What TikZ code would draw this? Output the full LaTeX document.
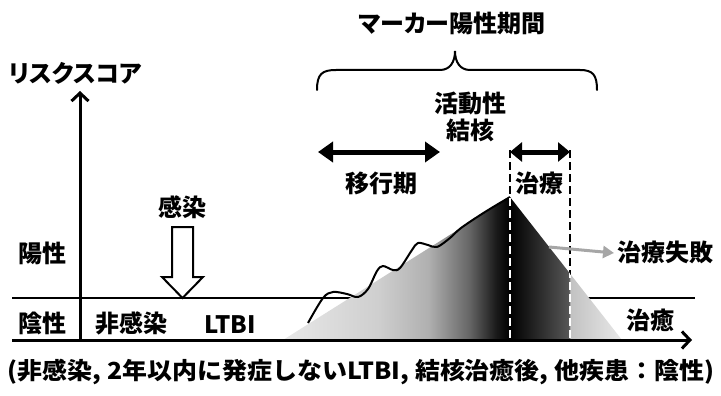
\documentclass[tikz,border=0pt]{standalone}
\usepackage{fontspec}
\setmainfont{Noto Sans CJK JP}[RawFeature=+palt]
\newfontfamily\capfont{Noto Sans CJK JP}
\usetikzlibrary{arrows.meta}
\definecolor{gA}{gray}{0.91}
\definecolor{gB}{gray}{0.81}
\definecolor{gC}{gray}{0.69}
\definecolor{gD}{gray}{0.40}
\definecolor{gE}{gray}{0.10}
\definecolor{gF}{gray}{0.34}
\definecolor{gG}{gray}{0.76}
\definecolor{failgray}{gray}{0.65}
\pgfdeclarehorizontalshading{leftgrad}{100bp}{color(0bp)=(gA); color(25bp)=(gA); color(46bp)=(gB); color(57bp)=(gC); color(66bp)=(gD); color(72bp)=(gE); color(75bp)=(black); color(100bp)=(black)}
\pgfdeclarehorizontalshading{rightgrad}{100bp}{color(0bp)=(black); color(25bp)=(black); color(51.4bp)=(gF); color(51.8bp)=(gG); color(75bp)=(gA); color(100bp)=(gA)}
\newsavebox\capbox
\tikzset{
  lbl/.style={font=\fontsize{24}{28}\selectfont\bfseries, inner sep=0pt},
  thinline/.style={line width=2pt},
  axisline/.style={line width=3pt, -{Straight Barb[length=8pt,width=17pt]}},
  dbl/.style={line width=5pt, {Triangle[length=15pt,width=20pt]}-{Triangle[length=15pt,width=20pt]}},
  dbls/.style={line width=5pt, {Triangle[length=12pt,width=19pt]}-{Triangle[length=12pt,width=19pt]}},
  dashline/.style={line width=2.5pt, dash pattern=on 8pt off 4pt},
  failarrow/.style={line width=3pt, failgray, -{Triangle[length=11pt,width=12pt]}},
}
\begin{document}
\sbox\capbox{\capfont\fontsize{23.5}{27}\selectfont\bfseries (非感染, 2年以内に発症しないLTBI, 結核治癒後, 他疾患：陰性)}%
\pgfmathsetmacro\capsx{706/\the\wd\capbox}%
\begin{tikzpicture}[x=1pt,y=-1pt]
\useasboundingbox (0,0) rectangle (721,396);
% coordinates
\coordinate (thL) at (12,298);
\coordinate (thR) at (695,298);
\coordinate (xL) at (12,340);
\coordinate (xR) at (692,340);
\coordinate (yB) at (80,341);
\coordinate (yT) at (80,91);
\coordinate (peak) at (510,197);
\coordinate (fL) at (283,340);
\coordinate (fM) at (510,340);
\coordinate (fR) at (622,340);
\coordinate (d1t) at (510,150);
\coordinate (d1b) at (510,340);
\coordinate (d2t) at (570,150);
\coordinate (d2b) at (570,340);
\coordinate (m1) at (318,152);
\coordinate (m2) at (440,152);
\coordinate (t1) at (510,152);
\coordinate (t2) at (570,152);
\coordinate (gs) at (549,247);
\coordinate (ge) at (614,253);
% threshold line
\draw[thinline] (thL) -- (thR);
% gradient area
\shade[shading=leftgrad] (fL) -- (peak) -- (fM) -- cycle;
\shade[shading=rightgrad] (peak) -- (fR) -- (fM) -- cycle;
% wavy curve
\draw[thinline, line join=round] plot[smooth, tension=0.55] coordinates {(308,323) (323,298) (333,292) (347,294) (358,297) (368,289) (377,271) (383,266) (393,270) (400,268) (412,250) (418,243) (428,245) (437,247) (450,238) (461,228) (485,212) (510,197)};
% dashed lines
\draw[dashline] (d1t) -- (d1b);
\draw[dashline] (d2t) -- (d2b);
\begin{scope}
\clip (fL) -- (peak) -- (fR) -- cycle;
\draw[dashline, white] (d1t) -- (d1b);
\draw[dashline, white] (d2t) -- (d2b);
\end{scope}
% axes
\draw[axisline] (xL) -- (xR);
\draw[axisline] (yB) -- (yT);
% hollow arrow
\draw[thinline, fill=white, line join=miter] (172,227) -- (193,227) -- (193,277) -- (203,277) -- (182.5,298) -- (162,277) -- (172,277) -- cycle;
% double arrows
\draw[dbl] (m1) -- (m2);
\draw[dbls] (t1) -- (t2);
% failure arrow
\draw[failarrow] (gs) -- (ge);
% brace
\draw[thinline, line cap=round] (317,90) .. controls (317,74) and (322,70) .. (336,70) -- (440,70) .. controls (450,70) and (455,62) .. (455,51) .. controls (455,62) and (460,70) .. (470,70) -- (580,70) .. controls (593,70) and (597,75) .. (597,90);
% labels
\node[lbl, anchor=west] (risk) at (9,73) {リスクスコア};
\node[lbl] (marker) at (452,23) {マーカー陽性期間};
\node[lbl] (act) at (470,103) {活動性};
\node[lbl] (tb) at (470,130) {結核};
\node[lbl] (trans) at (381,183) {移行期};
\node[lbl] (treat) at (539,183) {治療};
\node[lbl] (fail) at (665,252) {治療失敗};
\node[lbl] (cure) at (650,320) {治癒};
\node[lbl] (pos) at (43,253) {陽性};
\node[lbl] (neg) at (43,323) {陰性};
\node[lbl] (nonin) at (131,323) {非感染};
\node[lbl] (ltbi) at (230,325) {LTBI};
\node[lbl] (inf) at (182,207) {感染};
\node[inner sep=0pt] (cap) at (361,372) {\scalebox{\capsx}[1]{\usebox\capbox}};
\end{tikzpicture}
\end{document}
